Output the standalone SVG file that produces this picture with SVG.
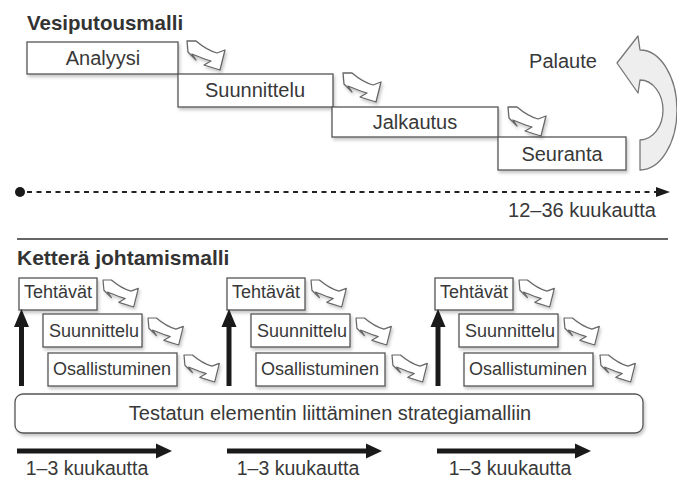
<svg xmlns="http://www.w3.org/2000/svg" width="677" height="480" viewBox="0 0 677 480">
<style>
.t{font-family:"Liberation Sans",Arial,sans-serif;fill:#383838}
.h{font-family:"Liberation Sans",Arial,sans-serif;font-weight:bold;fill:#333}
.box{fill:#fff;stroke:#555;stroke-width:1.3}
.ico{fill:#fff;stroke:#666;stroke-width:1.3;stroke-linejoin:round}
.thick{stroke:#1a1a1a;stroke-width:5;fill:none}
.head{fill:#1a1a1a}
</style>
<defs>
<filter id="sh" x="-10%" y="-20%" width="130%" height="160%">
<feDropShadow dx="1.5" dy="2.5" stdDeviation="1.5" flood-color="#000" flood-opacity="0.22"/>
</filter>
<path id="bend" class="ico" d="M0,0 L9,0 C16,6 23,10 30,12 L38,9 L33,29 L17,24 L24,20 C17,18 10,15 5,13 L9,19 L1,11 Z"/>
</defs>
<rect width="677" height="480" fill="#fff"/>

<text class="h" x="27" y="30" font-size="20.5">Vesiputousmalli</text>
<text class="h" x="17" y="265" font-size="21">Ketterä johtamismalli</text>

<g id="analyysi"><rect class="box" x="27" y="42" width="151" height="32" filter="url(#sh)"/><text class="t" x="103" y="65" font-size="20" text-anchor="middle">Analyysi</text></g>
<g id="suunnittelu"><rect class="box" x="178" y="74" width="155" height="33" filter="url(#sh)"/><text class="t" x="255" y="97" font-size="20" text-anchor="middle">Suunnittelu</text></g>
<g id="jalkautus"><rect class="box" x="332" y="107" width="166" height="30" filter="url(#sh)"/><text class="t" x="415" y="129" font-size="20" text-anchor="middle">Jalkautus</text></g>
<g id="seuranta"><rect class="box" x="498" y="137" width="128" height="33" filter="url(#sh)"/><text class="t" x="562" y="161" font-size="20" text-anchor="middle">Seuranta</text></g>
<g id="palaute"><path d="M640,50 A37,60 0 0 1 640,170 L640,140 A23,30 0 0 0 640,80 L638,93 L617,63 L638,36 Z" fill="#eeeeee" stroke="#777" stroke-width="1.3" stroke-linejoin="round"/><text class="t" x="563" y="68" font-size="20" text-anchor="middle">Palaute</text></g>

<g id="aikajana">
<circle cx="20" cy="192" r="5" fill="#1a1a1a"/>
<line x1="27" y1="192" x2="656" y2="192" stroke="#222" stroke-width="2" stroke-dasharray="5,4.5"/>
<polygon points="656,187 670,192 656,197" fill="#1a1a1a"/>
<text class="t" x="582" y="217" font-size="20" text-anchor="middle">12–36 kuukautta</text>
</g>
<line x1="17" y1="239" x2="668" y2="239" stroke="#666" stroke-width="2"/>

<g id="tehtavat1"><rect class="box" x="19" y="278" width="78" height="32" filter="url(#sh)"/><text class="t" x="58" y="298" font-size="18" text-anchor="middle">Tehtävät</text></g>
<g id="suunnittelu1"><rect class="box" x="43" y="314" width="99" height="33" filter="url(#sh)"/><text class="t" x="94" y="337" font-size="18" text-anchor="middle">Suunnittelu</text></g>
<g id="osallistuminen1"><rect class="box" x="48" y="353" width="129" height="33" filter="url(#sh)"/><text class="t" x="112" y="375" font-size="18" text-anchor="middle">Osallistuminen</text></g>

<g id="tehtavat2"><rect class="box" x="227" y="278" width="78" height="32" filter="url(#sh)"/><text class="t" x="266" y="298" font-size="18" text-anchor="middle">Tehtävät</text></g>
<g id="suunnittelu2"><rect class="box" x="251" y="314" width="99" height="33" filter="url(#sh)"/><text class="t" x="302" y="337" font-size="18" text-anchor="middle">Suunnittelu</text></g>
<g id="osallistuminen2"><rect class="box" x="256" y="353" width="129" height="33" filter="url(#sh)"/><text class="t" x="320" y="375" font-size="18" text-anchor="middle">Osallistuminen</text></g>

<g id="tehtavat3"><rect class="box" x="435" y="278" width="78" height="32" filter="url(#sh)"/><text class="t" x="474" y="298" font-size="18" text-anchor="middle">Tehtävät</text></g>
<g id="suunnittelu3"><rect class="box" x="459" y="314" width="99" height="33" filter="url(#sh)"/><text class="t" x="510" y="337" font-size="18" text-anchor="middle">Suunnittelu</text></g>
<g id="osallistuminen3"><rect class="box" x="464" y="353" width="129" height="33" filter="url(#sh)"/><text class="t" x="528" y="375" font-size="18" text-anchor="middle">Osallistuminen</text></g>

<g id="strategia"><rect class="box" x="15" y="394" width="628" height="39" rx="8" filter="url(#sh)"/><text class="t" x="330" y="420" font-size="20" text-anchor="middle">Testatun elementin liittäminen strategiamalliin</text></g>

<g id="connectors">
<use href="#bend" transform="translate(187,41)" filter="url(#sh)"/>
<use href="#bend" transform="translate(343,73)" filter="url(#sh)"/>
<use href="#bend" transform="translate(508,107)" filter="url(#sh)"/>

<use href="#bend" transform="translate(103,280) scale(0.93)" filter="url(#sh)"/>
<use href="#bend" transform="translate(148,318) scale(0.93)" filter="url(#sh)"/>
<use href="#bend" transform="translate(184,355) scale(0.93)" filter="url(#sh)"/>
<use href="#bend" transform="translate(311,280) scale(0.93)" filter="url(#sh)"/>
<use href="#bend" transform="translate(356,318) scale(0.93)" filter="url(#sh)"/>
<use href="#bend" transform="translate(392,355) scale(0.93)" filter="url(#sh)"/>
<use href="#bend" transform="translate(519,280) scale(0.93)" filter="url(#sh)"/>
<use href="#bend" transform="translate(564,318) scale(0.93)" filter="url(#sh)"/>
<use href="#bend" transform="translate(600,355) scale(0.93)" filter="url(#sh)"/>

<line class="thick" x1="21.5" y1="386" x2="21.5" y2="324"/><polygon class="head" points="14,327 21.5,309 29,327"/>
<line class="thick" x1="229" y1="386" x2="229" y2="324"/><polygon class="head" points="221.5,327 229,309 236.5,327"/>
<line class="thick" x1="438" y1="386" x2="438" y2="324"/><polygon class="head" points="430.5,327 438,309 445.5,327"/>

<line class="thick" x1="17" y1="451" x2="159" y2="451"/><polygon class="head" points="156,443.5 172,451 156,458.5"/>
<line class="thick" x1="227" y1="451" x2="369" y2="451"/><polygon class="head" points="366,443.5 382,451 366,458.5"/>
<line class="thick" x1="437" y1="451" x2="578" y2="451"/><polygon class="head" points="575,443.5 591,451 575,458.5"/>
</g>
<text class="t" x="87" y="475" font-size="19.5" text-anchor="middle">1–3 kuukautta</text>
<text class="t" x="298" y="475" font-size="19.5" text-anchor="middle">1–3 kuukautta</text>
<text class="t" x="510" y="475" font-size="19.5" text-anchor="middle">1–3 kuukautta</text>
</svg>
